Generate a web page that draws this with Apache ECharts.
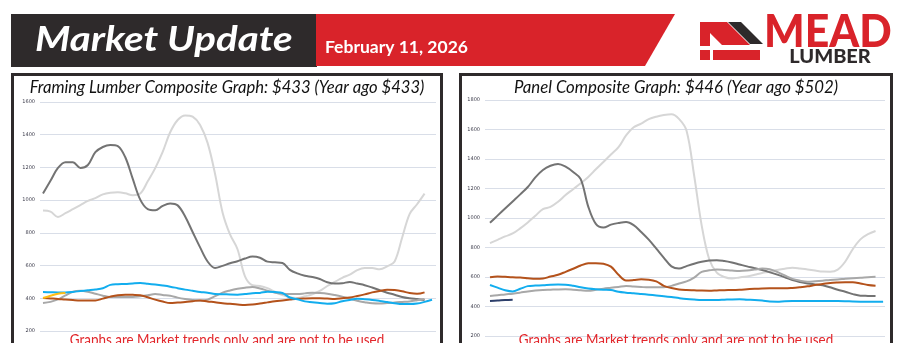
<!DOCTYPE html>
<html>
<head>
<meta charset="utf-8">
<script src="https://cdn.jsdelivr.net/npm/echarts@6/dist/echarts.min.js"></script>
<style>
  html, body { margin: 0; padding: 0; background: #fff; }
  #chart { width: 903px; height: 343px; }
</style>
</head>
<body>
<div id="chart"></div>
<script>
// Weekly composite prices, one array per year (week 1 first)
const framing2021 = [936,930,897,920,945,970,995,1012,1035,1045,1048,1042,1030,1040,1115,1196,1295,1415,1490,1518,1510,1460,1350,1160,925,790,700,534,480,475,462,440,420,405,402,412,425,445,475,500,525,545,572,585,585,577,595,625,770,915,975,1040];
const framing2022 = [1040,1118,1197,1232,1232,1197,1215,1293,1325,1337,1330,1262,1130,1003,945,938,965,979,968,900,805,711,625,585,598,614,626,643,655,648,624,620,616,574,552,538,530,518,498,490,492,500,490,480,466,450,434,422,408,400,395,390];
const framing2023 = [371,378,393,418,440,446,440,428,416,408,408,408,408,412,418,426,420,415,404,396,390,387,392,413,435,448,458,465,469,460,447,434,428,426,426,430,434,432,428,420,410,398,385,376,369,368,371,375,378,381,388,396];
const framing2024 = [402,399,396,392,389,387,387,387,398,410,419,422,421,419,406,392,380,371,374,377,382,387,381,376,370,366,362,359,362,368,375,382,387,392,397,399,400,400,398,396,400,405,414,424,436,445,452,450,443,432,427,436];
const framing2025 = [438,437,436,436,439,444,449,454,461,482,486,488,491,493,489,484,478,471,462,453,446,439,434,426,425,423,422,426,431,433,440,438,432,405,394,381,376,371,367,370,382,390,397,394,390,384,377,370,365,365,368,378,391];
const framing2026 = [402,415,428,433];

const panel2021 = [830,852,875,895,930,970,1015,1060,1075,1110,1156,1195,1235,1278,1330,1380,1430,1480,1560,1615,1640,1670,1687,1698,1703,1672,1592,1290,950,720,630,600,590,597,604,615,627,636,648,656,663,658,651,644,637,636,650,705,790,855,890,912];
const panel2022 = [968,1016,1064,1112,1160,1210,1275,1325,1354,1366,1348,1312,1264,1077,960,935,955,966,973,952,905,853,792,730,672,657,674,690,703,712,714,708,698,685,672,660,647,632,616,598,579,566,556,550,544,530,513,500,484,473,472,471];
const panel2023 = [471,476,482,487,494,502,508,512,514,516,517,514,510,507,513,521,527,533,539,535,532,530,530,531,540,556,570,596,635,645,651,648,644,641,644,650,657,652,634,610,587,575,568,571,575,580,583,588,592,595,599,602];
const panel2024 = [599,604,601,598,596,592,588,590,603,615,635,656,678,693,694,690,670,615,576,579,584,582,570,540,525,516,512,510,508,507,509,511,512,514,517,520,522,523,523,523,526,531,537,545,552,560,563,564,564,556,546,541];
const panel2025 = [546,528,510,502,520,538,542,544,548,550,548,540,530,522,517,514,512,500,494,490,485,480,475,470,464,457,451,447,444,444,444,446,448,449,446,444,440,434,433,436,437,437,437,437,437,437,437,436,434,433,433,433,433];
const panel2026 = [437,440,444,446];

const years = ['2021','2022','2023','2024','2025','2026'];
const framingTitle = 'Framing Lumber Composite Graph: $433 (Year ago $433)';
const panelTitle = 'Panel Composite Graph: $446 (Year ago $502)';
const disclaimer = 'Graphs are Market trends only and are not to be used';
const headerTitle = 'Market Update';
const headerDate = 'February 11, 2026';

// Axis ranges
const framingAxis = { min: 200, max: 1600, interval: 200 };
const panelAxis = { min: 200, max: 1800, interval: 200 };

const yearColors = ['#d6d6d6', '#737373', '#a8a8a8', '#b4521b', '#12adee', '#ffbd13'];
const panelColors = ['#d6d6d6', '#737373', '#a8a8a8', '#b4521b', '#12adee', '#2d3f6b'];

const toPairs = arr => arr.map((v, i) => [i + 1, v]);

function buildSeries(sets, colors, axisIdx) {
  return sets.map((data, k) => ({
    name: years[k],
    type: 'line',
    xAxisIndex: axisIdx,
    yAxisIndex: axisIdx,
    data: toPairs(data),
    smooth: 0.35,
    showSymbol: false,
    symbol: 'none',
    lineStyle: { color: colors[k], width: 2 },
    z: 2 + k,
    silent: true
  }));
}

const framingSets = [framing2021, framing2022, framing2023, framing2024, framing2025, framing2026];
const panelSets = [panel2021, panel2022, panel2023, panel2024, panel2025, panel2026];

function yAxisFor(range, gridIdx) {
  return {
    type: 'value', gridIndex: gridIdx,
    min: range.min, max: range.max, interval: range.interval,
    axisLine: { show: false }, axisTick: { show: false },
    axisLabel: { fontSize: 5, color: '#3b3b4a', margin: 5, fontFamily: 'DejaVu Sans', formatter: v => String(v) },
    splitLine: { lineStyle: { color: '#d9dee8', width: 1 } }
  };
}

const DARK = '#2e2a2b';
const RED = '#d9232a';

const option = {
  animation: false,
  backgroundColor: '#ffffff',
  grid: [
    { left: 40, top: 102, width: 396, height: 229 },
    { left: 485, top: 100, width: 400, height: 236 }
  ],
  xAxis: [
    { type: 'value', gridIndex: 0, min: 0.6, max: 53.53, show: false },
    { type: 'value', gridIndex: 1, min: 0.34, max: 53.25, show: false }
  ],
  yAxis: [yAxisFor(framingAxis, 0), yAxisFor(panelAxis, 1)],
  series: buildSeries(framingSets, yearColors, 0).concat(buildSeries(panelSets, panelColors, 1)),
  graphic: [
    // header banner
    { type: 'rect', shape: { x: 11, y: 14, width: 306, height: 53 }, style: { fill: DARK }, z: 1 },
    { type: 'polygon', shape: { points: [[316, 14], [675, 14], [645, 66], [316, 66]] }, style: { fill: RED }, z: 1 },
    { type: 'text', x: 35, y: 40, scaleX: 1.15, z: 5,
      style: { text: headerTitle, fill: '#ffffff', font: 'italic bold 35px Lato', textVerticalAlign: 'middle' } },
    { type: 'text', x: 325, y: 47, z: 5,
      style: { text: headerDate, fill: '#ffffff', font: 'bold 17.5px Lato', textVerticalAlign: 'middle' } },

    // logo mark: red roof and wall, dark roof edge, red base bars
    { type: 'polygon', z: 5, shape: { points: [[700, 22], [727, 22], [750, 45], [722, 45], [710, 33], [710, 46], [700, 46]] }, style: { fill: RED } },
    { type: 'polygon', z: 5, shape: { points: [[728, 22], [741, 22], [763, 44], [750, 44]] }, style: { fill: DARK } },
    { type: 'rect', z: 5, shape: { x: 700, y: 50, width: 10, height: 10 }, style: { fill: RED } },
    { type: 'rect', z: 5, shape: { x: 713, y: 50, width: 47, height: 10 }, style: { fill: RED } },
    { type: 'text', x: 828, y: 32, scaleX: 0.95, z: 5,
      style: { text: 'MEAD', fill: RED, font: '900 45px Lato', textAlign: 'center', textVerticalAlign: 'middle' } },
    { type: 'text', x: 830, y: 57, scaleX: 1.05, z: 5,
      style: { text: 'LUMBER', fill: DARK, font: '900 19px Lato', textAlign: 'center', textVerticalAlign: 'middle' } },

    // panel frames
    { type: 'rect', z: 6, shape: { x: 12.5, y: 74.5, width: 429, height: 300 }, style: { fill: 'none', stroke: DARK, lineWidth: 3 } },
    { type: 'rect', z: 6, shape: { x: 460.5, y: 74.5, width: 431, height: 300 }, style: { fill: 'none', stroke: DARK, lineWidth: 3 } },

    // panel titles
    { type: 'text', x: 227, y: 88, z: 6,
      style: { text: framingTitle, fill: '#111111', font: 'italic 16.6px Lato', textAlign: 'center', textVerticalAlign: 'middle' } },
    { type: 'text', x: 676, y: 88, z: 6,
      style: { text: panelTitle, fill: '#111111', font: 'italic 16.8px Lato', textAlign: 'center', textVerticalAlign: 'middle' } },

    // disclaimers
    { type: 'text', x: 227, y: 332, scaleX: 0.84, z: 6,
      style: { text: disclaimer, fill: '#e2262b', font: '16px Lato', textAlign: 'center', textVerticalAlign: 'top' } },
    { type: 'text', x: 676, y: 332, scaleX: 0.84, z: 6,
      style: { text: disclaimer, fill: '#e2262b', font: '16px Lato', textAlign: 'center', textVerticalAlign: 'top' } }
  ]
};

const chart = echarts.init(document.getElementById('chart'), null, { renderer: 'canvas' });
chart.setOption(option);
</script>
</body>
</html>
